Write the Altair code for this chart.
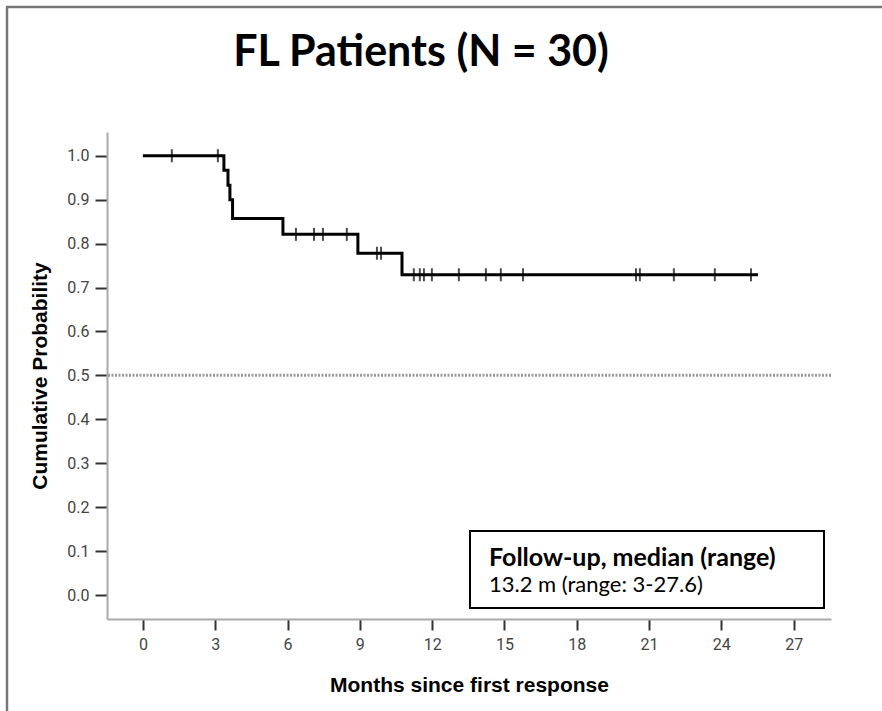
import altair as alt
import pandas as pd

# Kaplan-Meier step curve
step_months = [0, 3.36, 3.53, 3.61, 3.72, 5.81, 8.92, 10.75, 25.52]
step_surv = [1.0, 0.967, 0.933, 0.900, 0.857, 0.821, 0.778, 0.729, 0.729]

# Censored observations
censor_months = [1.2, 3.11, 6.35, 7.1, 7.47, 8.46, 9.71, 9.88, 11.24, 11.49,
                 11.66, 11.99, 13.11, 14.23, 14.85, 15.77, 20.46, 20.62,
                 22.03, 23.73, 25.23]
censor_surv = [1.0, 1.0, 0.821, 0.821, 0.821, 0.821, 0.778, 0.778, 0.729, 0.729,
               0.729, 0.729, 0.729, 0.729, 0.729, 0.729, 0.729, 0.729,
               0.729, 0.729, 0.729]

median_ref = [0.5]
x_ticks = [0, 3, 6, 9, 12, 15, 18, 21, 24, 27]
y_ticks = [0.0, 0.1, 0.2, 0.3, 0.4, 0.5, 0.6, 0.7, 0.8, 0.9, 1.0]

title_text = "FL Patients (N = 30)"
box_line1 = "Follow-up, median (range)"
box_line2 = "13.2 m (range: 3-27.6)"

steps = pd.DataFrame({"month": step_months, "surv": step_surv})
cens = pd.DataFrame({"month": censor_months, "surv": censor_surv})
ref = pd.DataFrame({"p": median_ref})

xscale = alt.Scale(domain=[-1.49, 28.55], nice=False, zero=False)
yscale = alt.Scale(domain=[-0.0546, 1.054], nice=False, zero=False)

tick_font = "Roboto"

xaxis = alt.Axis(values=x_ticks, title="Months since first response", grid=False,
                 domainColor="#aaaaaa", domainWidth=2, tickColor="#333333", tickWidth=2,
                 tickSize=11, labelPadding=6, labelFont=tick_font,
                 labelFontSize=16, labelColor="#444444", titleFont="Liberation Sans",
                 titleFontWeight="bold", titleFontSize=21, titleColor="#000000",
                 titlePadding=22)
yaxis = alt.Axis(values=y_ticks, format=".1f", title="Cumulative Probability", grid=False,
                 domainColor="#aaaaaa", domainWidth=2, tickColor="#333333", tickWidth=2,
                 tickSize=12, labelPadding=6, labelFont=tick_font,
                 labelFontSize=16, labelColor="#444444", titleFont="Liberation Sans",
                 titleFontWeight="bold", titleFontSize=21, titleColor="#000000",
                 titlePadding=16)

line = alt.Chart(steps).mark_line(interpolate="step-after", color="black", strokeWidth=3).encode(
    x=alt.X("month:Q", scale=xscale, axis=xaxis),
    y=alt.Y("surv:Q", scale=yscale, axis=yaxis),
)

ticks = alt.Chart(cens).mark_tick(orient="vertical", color="black", size=13, thickness=2).encode(
    x=alt.X("month:Q", scale=xscale),
    y=alt.Y("surv:Q", scale=yscale),
)

rule = alt.Chart(ref).mark_rule(color="#9a9a9a", strokeWidth=3, strokeDash=[2, 1.5]).encode(
    y=alt.Y("p:Q", scale=yscale),
)

box = alt.Chart(ref).mark_rect(fill="white", stroke="black", strokeWidth=2).encode(
    x=alt.value(363), x2=alt.value(717), y=alt.value(399), y2=alt.value(476),
)

t1 = alt.Chart(ref).mark_text(text=box_line1, align="left", baseline="middle",
                              font="Lato", fontWeight="bold", fontSize=25, color="black").encode(
    x=alt.value(382), y=alt.value(426),
)
t2 = alt.Chart(ref).mark_text(text=box_line2, align="left", baseline="middle",
                              font="Lato", fontSize=22, color="black").encode(
    x=alt.value(382), y=alt.value(453),
)

title = alt.Chart(ref).mark_text(text=title_text, align="center", baseline="alphabetic",
                                 font="Lato", fontWeight="bold", fontSize=43, color="black").encode(
    x=alt.value(314), y=alt.value(-66),
)

frame_left = alt.Chart(ref).mark_rule(color="#777777", strokeWidth=2.5).encode(
    x=alt.value(-100), y=alt.value(-125), y2=alt.value(600),
)
frame_top = alt.Chart(ref).mark_rule(color="#777777", strokeWidth=2.5).encode(
    x=alt.value(-101), x2=alt.value(790), y=alt.value(-125),
)

chart = alt.layer(frame_left, frame_top, rule, line, ticks, box, t1, t2, title).properties(
    width=724,
    height=487,
    padding={"left": 107, "top": 132, "right": 51, "bottom": 92},
    autosize=alt.AutoSizeParams(type="none"),
    background="white",
).configure_view(stroke=None)

chart.save("out.html", embed_options={"renderer": "svg", "actions": False})
